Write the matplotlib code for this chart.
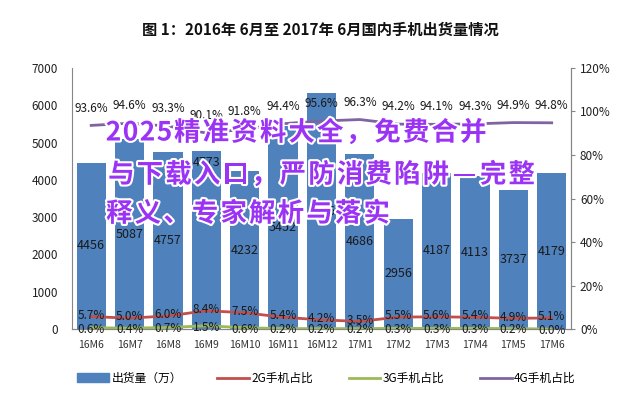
import matplotlib
matplotlib.use("Agg")
import matplotlib.pyplot as plt
import matplotlib.patheffects as pe
import numpy as np

plt.rcParams['font.family'] = ['Noto Sans CJK SC', 'DejaVu Sans']

months = ['16M6', '16M7', '16M8', '16M9', '16M10', '16M11', '16M12',
          '17M1', '17M2', '17M3', '17M4', '17M5', '17M6']
shipments = [4456, 5087, 4757, 4773, 4232, 5452, 6326, 4686, 2956, 4187, 4113, 3737, 4179]
share_2g = [5.7, 5.0, 6.0, 8.4, 7.5, 5.4, 4.2, 3.5, 5.5, 5.6, 5.4, 4.9, 5.1]
share_3g = [0.6, 0.4, 0.7, 1.5, 0.6, 0.2, 0.2, 0.2, 0.3, 0.3, 0.3, 0.2, 0.0]
share_4g = [93.6, 94.6, 93.3, 90.1, 91.8, 94.4, 95.6, 96.3, 94.2, 94.1, 94.3, 94.9, 94.8]
left_ticks = [0, 1000, 2000, 3000, 4000, 5000, 6000, 7000]
right_ticks = [0, 20, 40, 60, 80, 100, 120]

title = '图 1：2016年 6月至 2017年 6月国内手机出货量情况'
legend_labels = ['出货量（万）', '2G手机占比', '3G手机占比', '4G手机占比']
overlay_lines = ['2025精准资料大全，免费合并', '与下载入口，严防消费陷阱—完整', '释义、专家解析与落实']

c_bar = '#4F81BD'
c_2g = '#C0504D'
c_3g = '#9BBB59'
c_4g = '#8064A2'
c_axis = '#868686'

W, H = 640, 399
fig = plt.figure(figsize=(6.4, 3.99), dpi=100)
ax = fig.add_axes([0.1125, 0.1754, 0.7795, 0.6542])
x = np.arange(len(months))

ax.bar(x, shipments, width=0.76, color=c_bar, zorder=2)
ax.set_xlim(-0.5, len(months) - 0.5)
ax.set_ylim(0, 7000)
ax.set_yticks(left_ticks)
ax.set_xticks(x)
ax.set_xticklabels(months, fontsize=7.5, color='#333333')
ax.tick_params(axis='y', labelsize=8.5, colors='#222222', length=0, pad=10)
ax.tick_params(axis='x', length=0, pad=8)
ax.spines['top'].set_visible(False)
for s in ['left', 'bottom', 'right']:
    ax.spines[s].set_color(c_axis)
for i, (xi, v) in enumerate(zip(x, shipments)):
    # in the reference the 16M9 label sits near the top of its bar
    ly = v - 320 if i == 3 else v / 2
    ax.text(xi, ly, str(v), ha='center', va='center', fontsize=9, color='#1a1a1a', zorder=5)

ax2 = ax.twinx()
ax2.set_ylim(0, 120)
ax2.set_yticks(right_ticks)
ax2.set_yticklabels([f'{t}%' for t in right_ticks])
ax2.tick_params(axis='y', labelsize=8.5, colors='#222222', length=3, color=c_axis)
for s in ['top', 'left']:
    ax2.spines[s].set_visible(False)
ax2.spines['right'].set_color(c_axis)
ax2.spines['bottom'].set_color(c_axis)

ax2.plot(x, share_2g, color=c_2g, lw=2, zorder=3)
ax2.plot(x, share_3g, color=c_3g, lw=2, zorder=3)
ax2.plot(x, share_4g, color=c_4g, lw=2, zorder=3)
for xi, v in zip(x, share_2g):
    ax2.text(xi, v + 0.6, f'{v:.1f}%', ha='center', va='center', fontsize=8.5, color='#1a1a1a', zorder=6)
for xi, v in zip(x, share_3g):
    ax2.text(xi, v - 0.6, f'{v:.1f}%', ha='center', va='center', fontsize=8.5, color='#1a1a1a', zorder=6)
for xi, v in zip(x, share_4g):
    ax2.text(xi, v + 8, f'{v:.1f}%', ha='center', va='center', fontsize=8.5, color='#1a1a1a', zorder=6)

fig.text(0.5, 0.925, title, ha='center', va='center', fontsize=11, fontweight='bold', color='#111111')

from matplotlib.patches import Rectangle
from matplotlib.lines import Line2D
handles = [Rectangle((0, 0), 1, 1, color=c_bar),
           Line2D([0], [0], color=c_2g, lw=2),
           Line2D([0], [0], color=c_3g, lw=2),
           Line2D([0], [0], color=c_4g, lw=2)]
fig.legend(handles, legend_labels, loc='center', bbox_to_anchor=(0.51, 0.052), ncol=4,
           frameon=False, fontsize=8.5, handlelength=2.7, handletextpad=0.2, columnspacing=3.0)

# overlay text, one glyph at a time with slight letter spacing
starts = [105, 107, 105]
ys = [133, 175, 214]
cjk_adv = 28.6
digit_adv = 17.0
for line, sx, yy in zip(overlay_lines, starts, ys):
    cx = sx
    for ch in line:
        adv = digit_adv if ch.isascii() else cjk_adv
        fig.text((cx + adv / 2) / W, 1 - yy / H, ch, ha='center', va='center', fontsize=19,
                 fontweight='bold', color='#9B33F5', zorder=10,
                 path_effects=[pe.withStroke(linewidth=3, foreground='white')])
        cx += adv

fig.savefig('out.png', dpi=100)
